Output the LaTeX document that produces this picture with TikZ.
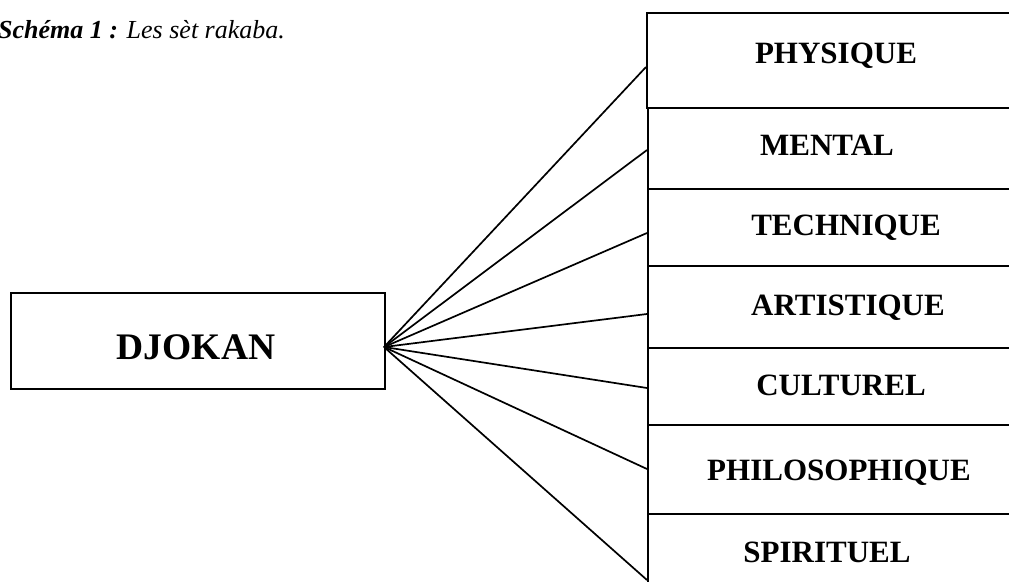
\documentclass[tikz,border=0pt]{standalone}
\usepackage{fontspec}
\setmainfont{Liberation Serif}
\begin{document}
\begin{tikzpicture}[x=1pt,y=-1pt,
  boxstyle/.style={draw,line width=2pt,rectangle,inner sep=0pt,anchor=north west,minimum width=420pt},
  lbl/.style={anchor=base,inner sep=0pt,font=\bfseries\fontsize{31}{31}\selectfont},
  conn/.style={line width=1.7pt}]
\useasboundingbox (0,0) rectangle (1009,581);
\clip (0,0) rectangle (1009,581);
% title
\node[anchor=base west,inner sep=0pt,font=\itshape\fontsize{26}{26}\selectfont] (title) at (-2,38) {\textbf{Schéma 1 :} Les sèt rakaba.};
% main box
\node[boxstyle,minimum width=374pt,minimum height=96pt] (dj) at (10,292) {};
\node[anchor=base,inner sep=0pt,font=\bfseries\fontsize{37.5}{38}\selectfont] (djt) at (196,359) {DJOKAN};
\coordinate (apex) at (384,347);
% right boxes
\node[boxstyle,minimum height=95pt] (b1) at (646,12) {};
\node[boxstyle,minimum height=81pt] (b2) at (647,107) {};
\node[boxstyle,minimum height=77pt] (b3) at (647,188) {};
\node[boxstyle,minimum height=82pt] (b4) at (647,265) {};
\node[boxstyle,minimum height=77pt] (b5) at (647,347) {};
\node[boxstyle,minimum height=89pt] (b6) at (647,424) {};
\node[boxstyle,minimum height=100pt] (b7) at (647,513) {};
% labels
\node[lbl] (t1) at (836,63) {PHYSIQUE};
\node[lbl] (t2) at (827,155) {MENTAL};
\node[lbl] (t3) at (846,235) {TECHNIQUE};
\node[lbl] (t4) at (848,315) {ARTISTIQUE};
\node[lbl] (t5) at (841,395) {CULTUREL};
\node[lbl] (t6) at (839,480) {PHILOSOPHIQUE};
\node[lbl] (t7) at (827,562) {SPIRITUEL};
% connector end points
\coordinate (e1) at (646,67);
\coordinate (e2) at (647,150);
\coordinate (e3) at (647,233);
\coordinate (e4) at (647,314);
\coordinate (e5) at (647,388);
\coordinate (e6) at (647,469);
\coordinate (e7) at (647,580);
\foreach \i in {1,...,7}{\draw[conn] (apex) -- (e\i);}
\end{tikzpicture}
\end{document}
